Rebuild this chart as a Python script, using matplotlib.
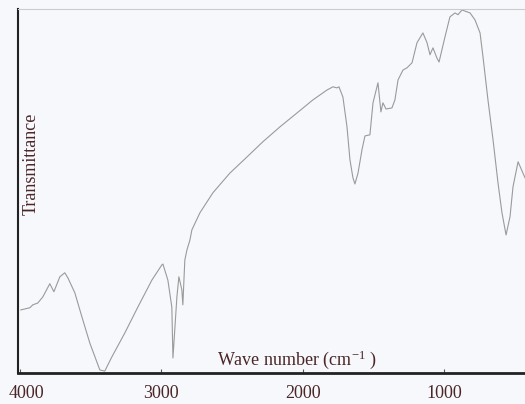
import matplotlib.pyplot as plt
from matplotlib.transforms import ScaledTranslation

# FTIR spectrum
wavenumber = [3993, 3929, 3908, 3873, 3837, 3788, 3759, 3717, 3682, 3660,
              3611, 3561, 3505, 3434, 3399, 3349, 3257, 3165, 3066, 2995,
              2988, 2953, 2925, 2917, 2889, 2875, 2854, 2847, 2833, 2818,
              2797, 2783, 2726, 2634, 2514, 2394, 2281, 2160, 2040, 1927,
              1828, 1785, 1757, 1743, 1715, 1686, 1665, 1644, 1630, 1608,
              1580, 1559, 1524, 1502, 1467, 1446, 1432, 1410, 1368, 1347,
              1325, 1290, 1262, 1226, 1191, 1149, 1120, 1099, 1078, 1050,
              1035, 993, 958, 922, 901, 873, 816, 781, 745, 724,
              689, 653, 618, 590, 561, 533, 512, 476, 427]
transmittance = [17.3, 17.9, 18.7, 19.2, 20.9, 24.5, 22.3, 26.4, 27.5, 26.1,
                 22.0, 15.4, 8.2, 0.8, 0.5, 4.4, 11.0, 18.1, 25.5, 29.7,
                 29.9, 25.5, 18.1, 4.1, 20.9, 26.4, 22.8, 18.7, 31.0, 33.8,
                 36.5, 39.3, 44.0, 49.5, 54.9, 59.3, 63.5, 67.6, 71.4, 75.0,
                 77.7, 78.6, 78.3, 78.6, 75.8, 67.6, 58.5, 53.6, 51.9, 54.9,
                 61.3, 65.1, 65.4, 74.2, 79.7, 71.7, 74.2, 72.5, 72.8, 75.0,
                 80.5, 83.2, 83.8, 85.2, 90.7, 93.4, 90.7, 87.4, 89.3, 86.5,
                 85.4, 92.3, 97.8, 98.9, 98.4, 99.7, 98.9, 97.0, 93.4, 86.8,
                 75.0, 64.0, 52.2, 44.0, 37.9, 42.9, 51.1, 58.0, 53.6]
tick_pos = [4000, 3000, 2000, 1000]

plt.rcParams['font.family'] = ['Liberation Serif', 'DejaVu Serif']
plt.rcParams['mathtext.fontset'] = 'stix'
txt_color = '#4a2626'
bg = '#f6f8fc'

fig = plt.figure(figsize=(5.25, 4.04), dpi=100, facecolor=bg)
ax = fig.add_axes([0.034, 0.077, 0.966, 0.901], facecolor=bg)

ax.plot(wavenumber, transmittance, color='#9a9a9a', linewidth=0.8)

ax.set_xlim(4014, 427)
ax.set_ylim(0, 100)
ax.set_xticks(tick_pos)
ax.set_xticklabels([str(t) for t in tick_pos], fontsize=13, color=txt_color)
ax.set_yticks([])
ax.tick_params(axis='x', direction='in', length=3, color='#555555', pad=9)

# the 4000 label sits a bit to the right in the original
lbl = ax.get_xticklabels()[0]
lbl.set_transform(lbl.get_transform() + ScaledTranslation(0.07, 0, fig.dpi_scale_trans))

ax.spines['left'].set_linewidth(1.5)
ax.spines['left'].set_color('#222222')
ax.spines['bottom'].set_linewidth(2)
ax.spines['bottom'].set_color('#222222')
ax.spines['top'].set_color('#cccccc')
ax.spines['top'].set_linewidth(0.8)
ax.spines['right'].set_visible(False)

ax.text(0.026, 0.574, 'Transmittance', transform=ax.transAxes, rotation=90,
        ha='center', va='center', fontsize=13, color=txt_color)
ax.text(0.55, 0.035, 'Wave number (cm$^{\\mathregular{-1}}$ )', transform=ax.transAxes,
        ha='center', va='center', fontsize=13, color=txt_color)

fig.savefig('out.png', dpi=100, facecolor=bg)
